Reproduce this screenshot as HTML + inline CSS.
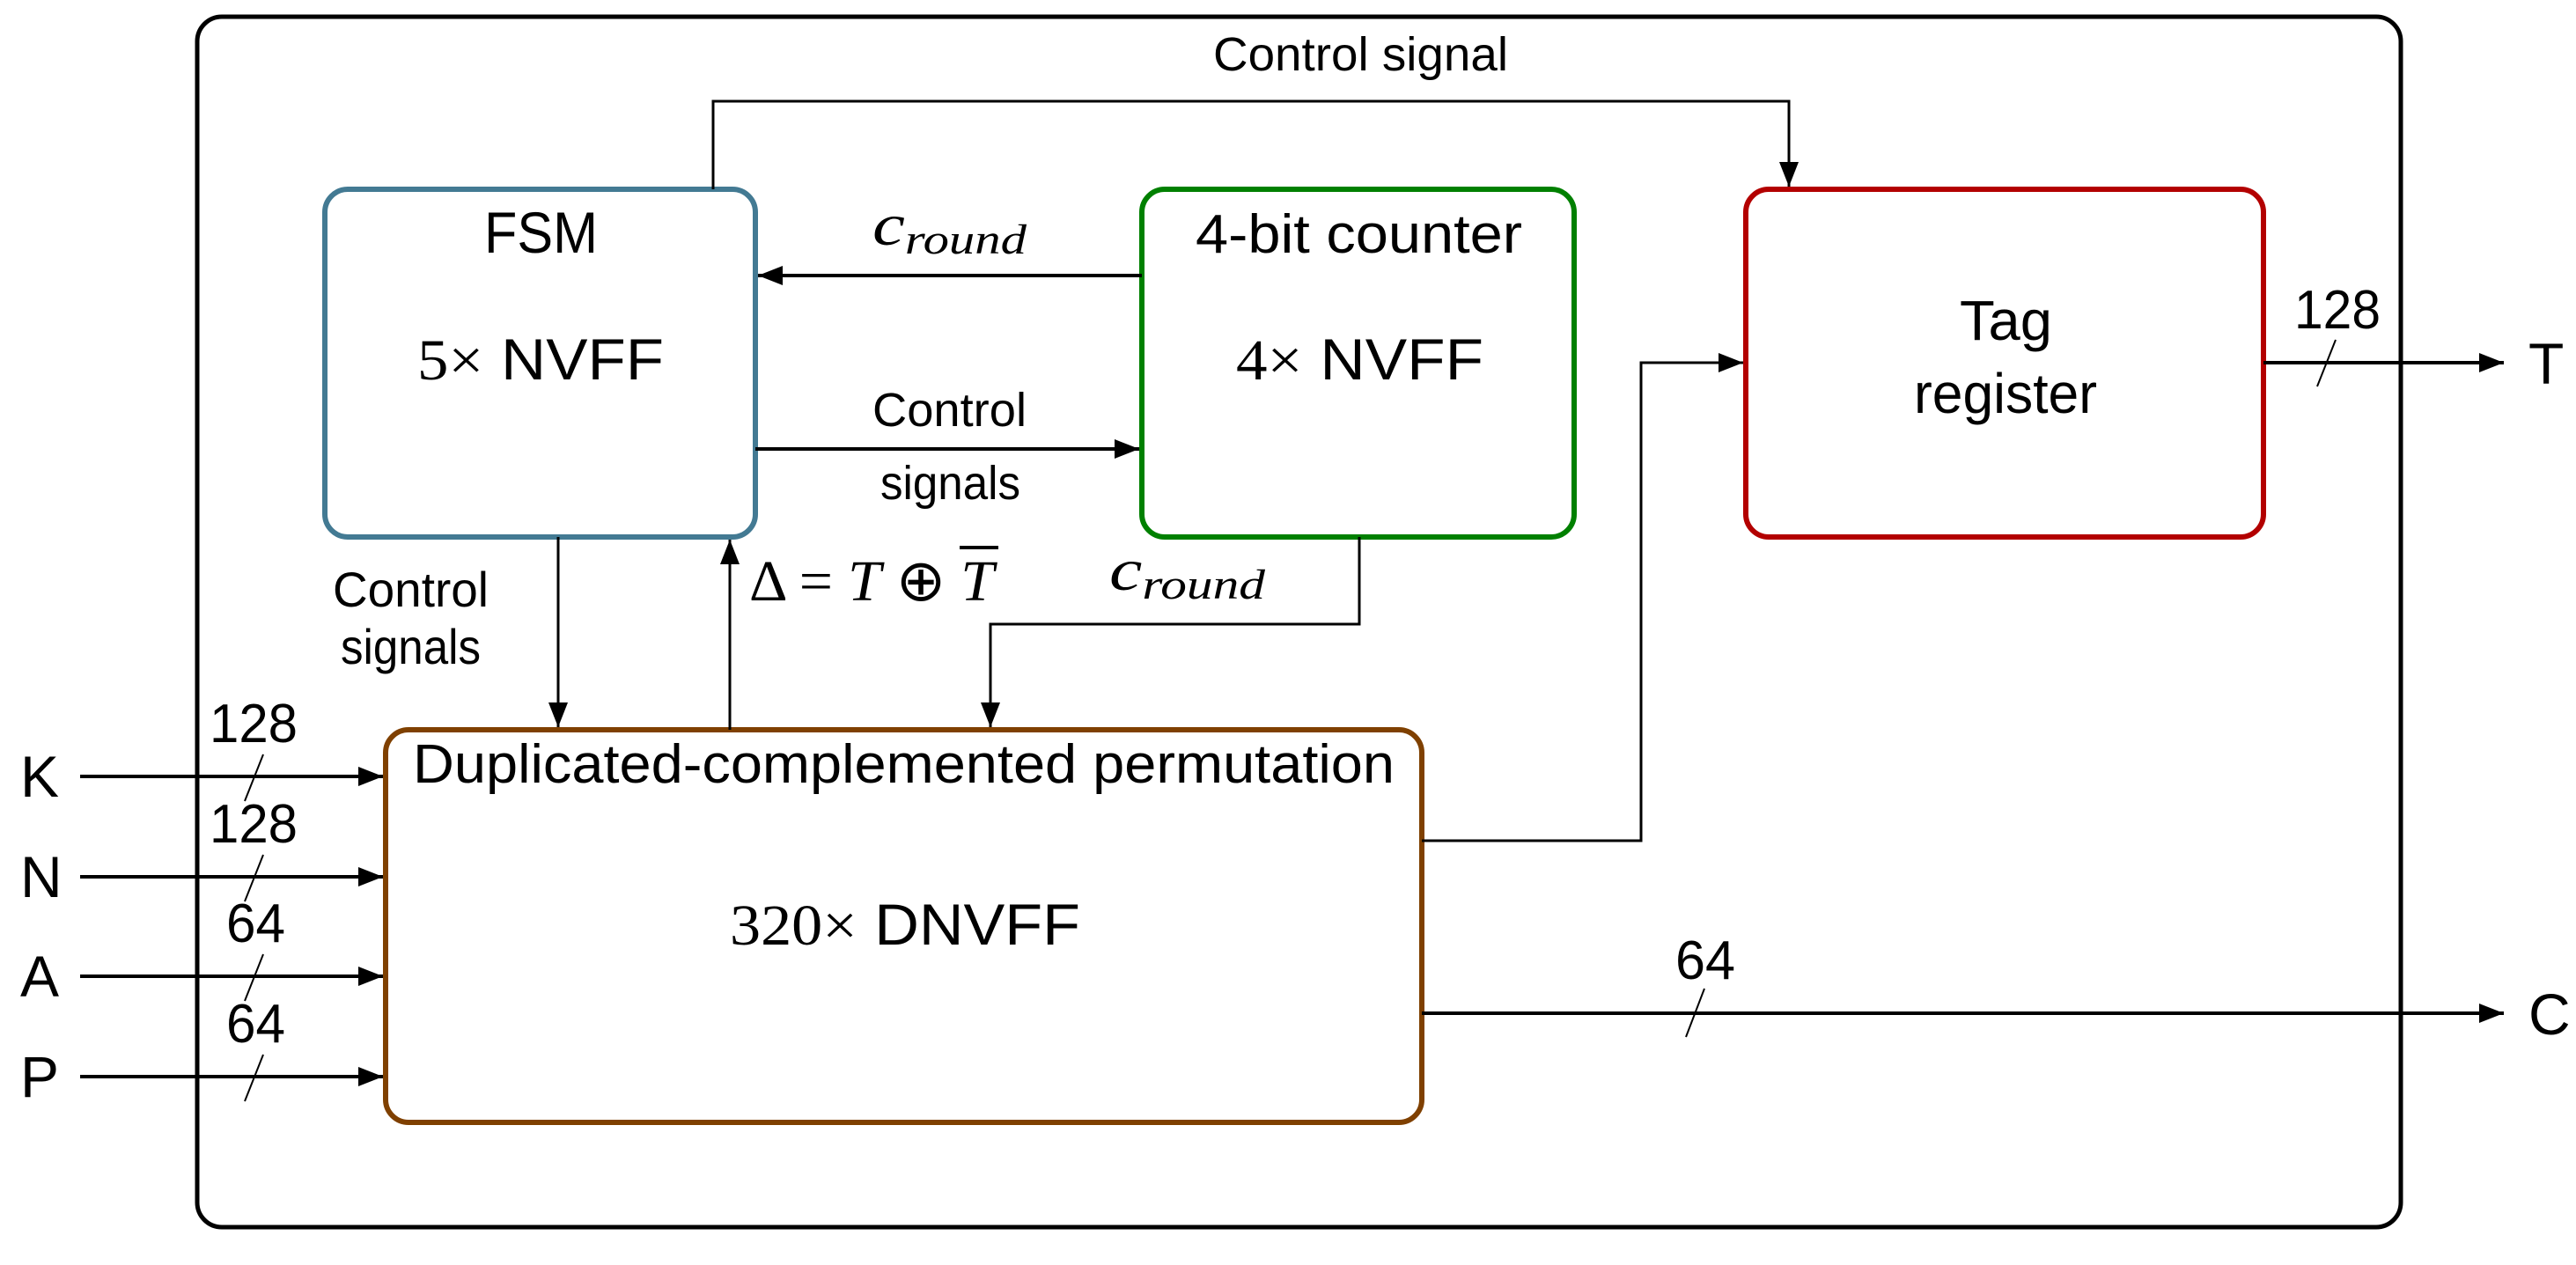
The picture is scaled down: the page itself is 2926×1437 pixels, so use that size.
<!DOCTYPE html>
<html><head><meta charset="utf-8"><style>
html,body{margin:0;padding:0;background:#fff;}
svg{display:block;}
text{font-family:"Liberation Sans",sans-serif;fill:#000;}
.m{font-family:"Liberation Serif",serif;font-style:italic;}
.r{font-family:"Liberation Serif",serif;}
</style></head><body>
<svg width="2926" height="1437" viewBox="0 0 2926 1437" xmlns="http://www.w3.org/2000/svg">
<defs>
<marker id="a" markerWidth="30" markerHeight="22" refX="28" refY="11" orient="auto" markerUnits="userSpaceOnUse">
<path d="M0,0 L28,11 L0,22 Z" fill="#000"/>
</marker>
</defs>
<rect x="224" y="19" width="2503" height="1375" rx="28" ry="28" fill="none" stroke="#000" stroke-width="5"/>
<rect x="369" y="215" width="489" height="395" rx="26" fill="none" stroke="#437a93" stroke-width="6"/>
<rect x="1297" y="215" width="491" height="395" rx="26" fill="none" stroke="#008000" stroke-width="6"/>
<rect x="1983" y="215" width="588" height="395" rx="26" fill="none" stroke="#b30000" stroke-width="6"/>
<rect x="438" y="829" width="1177" height="446" rx="26" fill="none" stroke="#7f4000" stroke-width="6"/>

<g fill="none" stroke="#000">
<polyline points="810,215 810,115 2032,115 2032,212" stroke-width="3" marker-end="url(#a)"/>
<line x1="1297" y1="313" x2="861" y2="313" stroke-width="4" marker-end="url(#a)"/>
<line x1="858" y1="510" x2="1294" y2="510" stroke-width="4" marker-end="url(#a)"/>
<line x1="634" y1="610" x2="634" y2="826" stroke-width="3" marker-end="url(#a)"/>
<line x1="829" y1="829" x2="829" y2="613" stroke-width="3" marker-end="url(#a)"/>
<polyline points="1544,610 1544,709 1125,709 1125,826" stroke-width="3" marker-end="url(#a)"/>
<polyline points="1615,955 1864,955 1864,412 1980,412" stroke-width="3" marker-end="url(#a)"/>
<line x1="2571" y1="412" x2="2844" y2="412" stroke-width="4" marker-end="url(#a)"/>
<line x1="1615" y1="1151" x2="2844" y2="1151" stroke-width="4" marker-end="url(#a)"/>
<line x1="91" y1="882" x2="435" y2="882" stroke-width="4" marker-end="url(#a)"/>
<line x1="91" y1="996" x2="435" y2="996" stroke-width="4" marker-end="url(#a)"/>
<line x1="91" y1="1109" x2="435" y2="1109" stroke-width="4" marker-end="url(#a)"/>
<line x1="91" y1="1223" x2="435" y2="1223" stroke-width="4" marker-end="url(#a)"/>
<g stroke-width="2">
<line x1="299" y1="857" x2="278" y2="910"/>
<line x1="299" y1="971" x2="278" y2="1024"/>
<line x1="299" y1="1084" x2="278" y2="1137"/>
<line x1="299" y1="1198" x2="278" y2="1251"/>
<line x1="2653" y1="386" x2="2632" y2="439"/>
<line x1="1936" y1="1123" x2="1915" y2="1178"/>
</g>
</g>

<text x="550" y="287" font-size="66" textLength="129" lengthAdjust="spacingAndGlyphs">FSM</text>
<text x="474" y="431" font-size="66" textLength="280" lengthAdjust="spacingAndGlyphs"><tspan class="r">5×</tspan> NVFF</text>
<text x="1358" y="287" font-size="62" textLength="371" lengthAdjust="spacingAndGlyphs">4-bit counter</text>
<text x="1404" y="431" font-size="66" textLength="281" lengthAdjust="spacingAndGlyphs"><tspan class="r">4×</tspan> NVFF</text>
<text x="2226" y="386" font-size="64" textLength="105" lengthAdjust="spacingAndGlyphs">Tag</text>
<text x="2174" y="469" font-size="64" textLength="208" lengthAdjust="spacingAndGlyphs">register</text>
<text x="469" y="889" font-size="62" textLength="1115" lengthAdjust="spacingAndGlyphs">Duplicated-complemented permutation</text>
<text x="829" y="1073" font-size="66" textLength="398" lengthAdjust="spacingAndGlyphs"><tspan class="r">320×</tspan> DNVFF</text>

<text x="1378" y="80" font-size="54" textLength="335" lengthAdjust="spacingAndGlyphs">Control signal</text>
<text x="991" y="484" font-size="54" textLength="175" lengthAdjust="spacingAndGlyphs">Control</text>
<text x="1000" y="567" font-size="54" textLength="159" lengthAdjust="spacingAndGlyphs">signals</text>
<text x="378" y="689" font-size="56" textLength="177" lengthAdjust="spacingAndGlyphs">Control</text>
<text x="387" y="754" font-size="56" textLength="159" lengthAdjust="spacingAndGlyphs">signals</text>

<text x="991" y="278" font-size="68" textLength="175" lengthAdjust="spacingAndGlyphs"><tspan class="m">c</tspan><tspan class="m" font-size="48" dy="10">round</tspan></text>
<text x="1260" y="670" font-size="68" textLength="177" lengthAdjust="spacingAndGlyphs"><tspan class="m">c</tspan><tspan class="m" font-size="48" dy="10">round</tspan></text>
<text x="851" y="682" font-size="66" class="r" textLength="278" lengthAdjust="spacingAndGlyphs">Δ = <tspan class="m">T</tspan> ⊕ <tspan class="m">T</tspan></text>
<line x1="1090" y1="622" x2="1134" y2="622" stroke="#000" stroke-width="4"/>

<text x="2606" y="373" font-size="62" textLength="98" lengthAdjust="spacingAndGlyphs">128</text>
<text x="2872" y="436" font-size="66">T</text>
<text x="1903" y="1112" font-size="62" textLength="68" lengthAdjust="spacingAndGlyphs">64</text>
<text x="2872" y="1175" font-size="66">C</text>

<text x="238" y="843" font-size="62" textLength="100" lengthAdjust="spacingAndGlyphs">128</text>
<text x="238" y="957" font-size="62" textLength="100" lengthAdjust="spacingAndGlyphs">128</text>
<text x="257" y="1070" font-size="62" textLength="67" lengthAdjust="spacingAndGlyphs">64</text>
<text x="257" y="1184" font-size="62" textLength="67" lengthAdjust="spacingAndGlyphs">64</text>

<text x="23" y="905" font-size="66">K</text>
<text x="23" y="1019" font-size="66">N</text>
<text x="23" y="1132" font-size="66">A</text>
<text x="23" y="1246" font-size="66">P</text>
</svg>
</body></html>
